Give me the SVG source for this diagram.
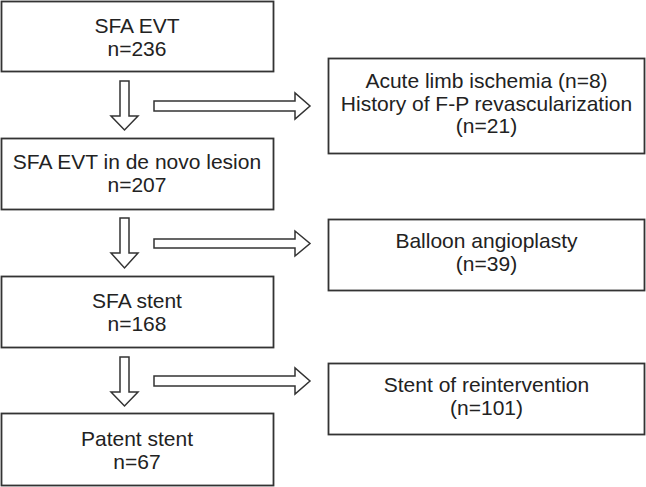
<svg xmlns="http://www.w3.org/2000/svg" width="646" height="487" viewBox="0 0 646 487">
<style>
.box{fill:#fff;stroke:#333;stroke-width:1.8}
.arr{fill:#fff;stroke:#333;stroke-width:1.5;stroke-linejoin:miter}
text{font-family:"Liberation Sans",Arial,sans-serif;font-size:21px;fill:#222;text-anchor:middle}
</style>
<rect width="646" height="487" fill="#fff"/>
<g id="connectors">
<polygon class="arr" points="120,81 129,81 129,116 138,116 124.5,130 111,116 120,116"/>
<polygon class="arr" points="154,101 295,101 295,93 310,106 295,119 295,111 154,111"/>
<polygon class="arr" points="120,218 129,218 129,253 138,253 124.5,268 111,253 120,253"/>
<polygon class="arr" points="154,239 295,239 295,231 310,243.5 295,256 295,248 154,248"/>
<polygon class="arr" points="120,357 129,357 129,392 138,392 124.5,406 111,392 120,392"/>
<polygon class="arr" points="154,376 295,376 295,368 310,381 295,394 295,386 154,386"/>
</g>
<g id="n1"><rect class="box" x="1.5" y="1.5" width="272" height="70"/>
<text x="137" y="33">SFA EVT</text><text x="137" y="55.5">n=236</text></g>
<g id="n2"><rect class="box" x="1.5" y="138.5" width="272" height="71"/>
<text x="137" y="169">SFA EVT in de novo lesion</text><text x="137" y="192">n=207</text></g>
<g id="n3"><rect class="box" x="1.5" y="276.5" width="272" height="71"/>
<text x="137" y="308">SFA stent</text><text x="137" y="331">n=168</text></g>
<g id="n4"><rect class="box" x="1.5" y="413.5" width="272" height="72"/>
<text x="137" y="446">Patent stent</text><text x="137" y="468.5">n=67</text></g>
<g id="e1"><rect class="box" x="328.5" y="58.5" width="316" height="95"/>
<text x="486.5" y="88">Acute limb ischemia (n=8)</text><text x="486.5" y="111">History of F-P revascularization</text><text x="486.5" y="133">(n=21)</text></g>
<g id="e2"><rect class="box" x="328.5" y="219.5" width="316" height="71"/>
<text x="486.5" y="248">Balloon angioplasty</text><text x="486.5" y="271">(n=39)</text></g>
<g id="e3"><rect class="box" x="328.5" y="363.5" width="316" height="71"/>
<text x="486.5" y="392">Stent of reintervention</text><text x="486.5" y="415">(n=101)</text></g>
</svg>
